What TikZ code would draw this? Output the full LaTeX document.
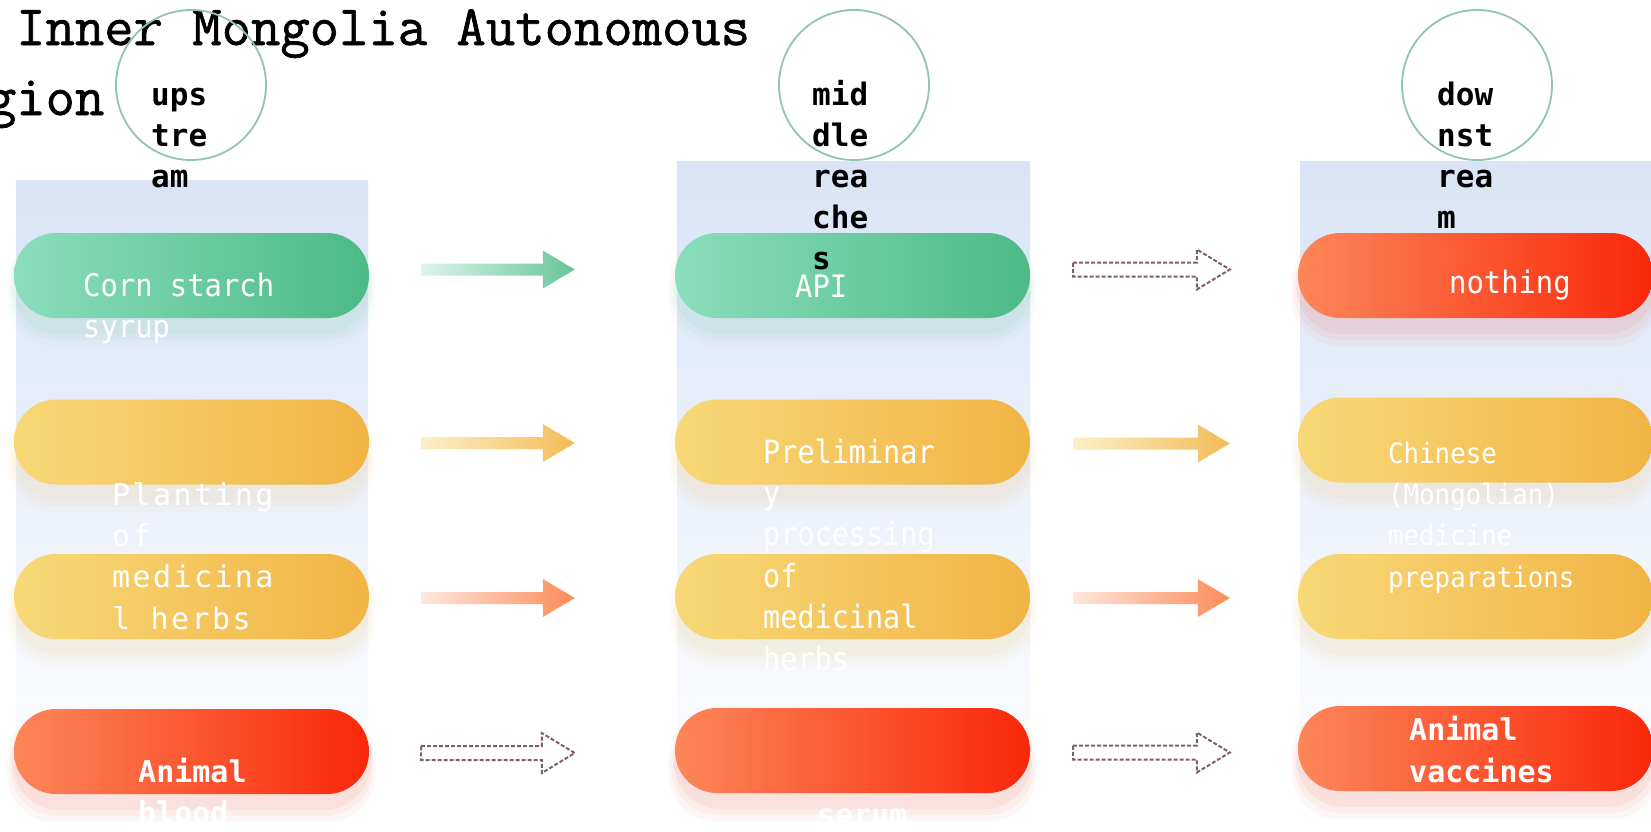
\documentclass[tikz,border=0pt]{standalone}
\usepackage{fontspec}
\usetikzlibrary{calc}
\newfontfamily\fA{DejaVu Sans Mono}
\newfontfamily\fCo[FakeStretch=0.93]{DejaVu Sans Mono}
\newfontfamily\fPl[LetterSpace=8]{DejaVu Sans Mono}
\newfontfamily\fPr[FakeStretch=0.89]{DejaVu Sans Mono}
\newfontfamily\fCh[FakeStretch=0.92]{DejaVu Sans Mono}
\newfontfamily\fT[FakeBold=1.2]{Latin Modern Mono}
\definecolor{panel}{HTML}{DAE4F6}
\definecolor{gL}{HTML}{8ADDBD}\definecolor{gR}{HTML}{4CBA86}
\definecolor{yL}{HTML}{F8D877}\definecolor{yR}{HTML}{F1B445}
\definecolor{rL}{HTML}{FC8759}\definecolor{rR}{HTML}{FA270A}
\definecolor{circ}{HTML}{93C4B2}
\definecolor{dashc}{HTML}{7E5E70}
\pgfdeclarelayer{back}\pgfdeclarelayer{glowlayer}
\pgfsetlayers{back,glowlayer,main}
\tikzset{
  pill/.style={rounded corners=42pt, minimum width=355pt, minimum height=85pt, inner sep=0pt},
  greenpill/.style={pill, left color=gL, right color=gR},
  yellowpill/.style={pill, left color=yL, right color=yR},
  redpill/.style={pill, left color=rL, right color=rR},
  ring/.style={circle, draw=circ, line width=1.8pt, minimum size=150pt, inner sep=0pt},
  plbl/.style={anchor=base west, inner sep=0pt, align=left, text=white},
  clbl/.style={anchor=base west, inner sep=0pt, align=left, text=black, font=\fA\bfseries\fontsize{31}{41}\selectfont},
  ttl/.style={anchor=base west, inner sep=0pt, font=\fT\fontsize{57}{70}\selectfont},
  garrow/.style={left color=gL!30!white, right color=gR!85!white},
  yarrow/.style={left color=yL!40!white, right color=yR!90!white},
  oarrow/.style={left color=rL!20!white, right color=rL!90!yR},
  darrow/.style={draw=dashc, fill=white, line width=2pt, dash pattern=on 4pt off 2pt},
}
\newcommand\glowpill[2]{%
  \foreach \g/\o in {16/0.035,10/0.045,4/0.06}{%
    \fill[#2, opacity=\o, rounded corners=48pt] ($(#1.south west)+(-0.4*\g,\g+12)$) rectangle ($(#1.north east)+(0.4*\g,-\g+18)$);}}
\newcommand\fullarrow[3]{%
  \path[#1] ($(#2)+(0,-6)$) -- ($(#3)+(-32,-6)$) -- ($(#3)+(-32,-19)$) -- (#3) -- ($(#3)+(-32,19)$) -- ($(#3)+(-32,6)$) -- ($(#2)+(0,6)$) -- cycle;}
\newcommand\hollowarrow[2]{%
  \path[darrow] ($(#1)+(0,-7)$) -- ($(#2)+(-33,-7)$) -- ($(#2)+(-33,-20)$) -- (#2) -- ($(#2)+(-33,20)$) -- ($(#2)+(-33,7)$) -- ($(#1)+(0,7)$) -- cycle;}
\begin{document}
\begin{tikzpicture}[x=1pt,y=-1pt]
\useasboundingbox (0,0) rectangle (1651,831);
\clip (0,0) rectangle (1651,831);
\begin{pgfonlayer}{back}
  \fill[white] (0,0) rectangle (1651,831);
  \shade[top color=panel, bottom color=white] (16,180) rectangle (368,831);
  \shade[top color=panel, bottom color=white] (677,161) rectangle (1030,831);
  \shade[top color=panel, bottom color=white] (1300,161) rectangle (1651,831);
\end{pgfonlayer}

% title
\node[ttl] (t1) at (16,45) {Inner Mongolia Autonomous};
\node[ttl] (t2) at (-72,115) {Region};

% circles
\node[ring] (c1) at (191,85) {};
\node[ring] (c2) at (854,85) {};
\node[ring] (c3) at (1477,85) {};

% pills
\node[greenpill] (p11) at (191.5,275.5) {};
\node[greenpill] (p12) at (852.5,275.5) {};
\node[redpill] (p13) at (1475.5,275.5) {};
\node[yellowpill] (p21) at (191.5,442) {};
\node[yellowpill] (p22) at (852.5,442) {};
\node[yellowpill] (p23) at (1475.5,440) {};
\node[yellowpill] (p31) at (191.5,596.5) {};
\node[yellowpill] (p32) at (852.5,596.5) {};
\node[yellowpill] (p33) at (1475.5,596.5) {};
\node[redpill] (p41) at (191.5,751.5) {};
\node[redpill] (p42) at (852.5,750.5) {};
\node[redpill] (p43) at (1475.5,748.5) {};

\begin{pgfonlayer}{glowlayer}
  \glowpill{p11}{gR}\glowpill{p12}{gR}\glowpill{p13}{rR}
  \glowpill{p21}{yR}\glowpill{p22}{yR}\glowpill{p23}{yR}
  \glowpill{p31}{yR}\glowpill{p32}{yR}\glowpill{p33}{yR}
  \glowpill{p41}{rR}\glowpill{p42}{rR}\glowpill{p43}{rR}
\end{pgfonlayer}

% circle labels (anchor at baseline of last line)
\node[clbl] (cl1) at (151,187) {ups\\tre\\am};
\node[clbl] (cl2) at (812,269) {mid\\dle\\rea\\che\\s};
\node[clbl] (cl3) at (1437,228) {dow\\nst\\rea\\m};

% pill labels (anchor at baseline of last line)
\node[plbl, font=\fCo\fontsize{31}{41.5}\selectfont] (x11) at (83,337.5) {Corn starch\\syrup};
\node[plbl, font=\fCo\fontsize{31}{41.5}\selectfont] (x12) at (795,297) {API};
\node[plbl, font=\fCo\fontsize{31}{41.5}\selectfont] (x13) at (1449,293) {nothing};
\node[plbl, font=\fPl\fontsize{30}{41.3}\selectfont] (x21) at (112,629) {Planting\\of\\medicina\\l herbs};
\node[plbl, font=\fPr\fontsize{32}{41.4}\selectfont] (x22) at (763,670) {Preliminar\\y\\processing\\of\\medicinal\\herbs};
\node[plbl, font=\fCh\fontsize{28}{41.3}\selectfont] (x23) at (1388,587) {Chinese\\(Mongolian)\\medicine\\preparations};
\node[plbl, font=\fA\bfseries\fontsize{30}{41}\selectfont] (x41) at (138,823) {Animal\\blood};
\node[plbl, font=\fA\bfseries\fontsize{30}{41}\selectfont] (x42) at (817,825) {serum};
\node[plbl, font=\fA\bfseries\fontsize{30}{42}\selectfont] (x43) at (1409,782) {Animal\\vaccines};

% arrow end points
\coordinate (s1a) at ($(p11.east)+(52,-6)$);   \coordinate (e1a) at ($(p12.west)+(-100,0)$); \coordinate (t1a) at (e1a |- s1a);
\coordinate (s1b) at ($(p12.east)+(43,-6)$);   \coordinate (e1b) at ($(p13.west)+(-68,0)$);  \coordinate (t1b) at (e1b |- s1b);
\coordinate (s2a) at ($(p21.east)+(52,1)$);    \coordinate (e2a) at ($(p22.west)+(-100,0)$); \coordinate (t2a) at (e2a |- s2a);
\coordinate (s2b) at ($(p22.east)+(43,1.5)$);  \coordinate (e2b) at ($(p23.west)+(-68,0)$);  \coordinate (t2b) at (e2b |- s2b);
\coordinate (s3a) at ($(p31.east)+(52,1.5)$);  \coordinate (e3a) at ($(p32.west)+(-100,0)$); \coordinate (t3a) at (e3a |- s3a);
\coordinate (s3b) at ($(p32.east)+(43,1.5)$);  \coordinate (e3b) at ($(p33.west)+(-68,0)$);  \coordinate (t3b) at (e3b |- s3b);
\coordinate (s4a) at ($(p41.east)+(52,1.5)$);  \coordinate (e4a) at ($(p42.west)+(-100,0)$); \coordinate (t4a) at (e4a |- s4a);
\coordinate (s4b) at ($(p42.east)+(43,2)$);    \coordinate (e4b) at ($(p43.west)+(-68,0)$);  \coordinate (t4b) at (e4b |- s4b);

\fullarrow{garrow}{s1a}{t1a}
\hollowarrow{s1b}{t1b}
\fullarrow{yarrow}{s2a}{t2a}
\fullarrow{yarrow}{s2b}{t2b}
\fullarrow{oarrow}{s3a}{t3a}
\fullarrow{oarrow}{s3b}{t3b}
\hollowarrow{s4a}{t4a}
\hollowarrow{s4b}{t4b}
\end{tikzpicture}
\end{document}
